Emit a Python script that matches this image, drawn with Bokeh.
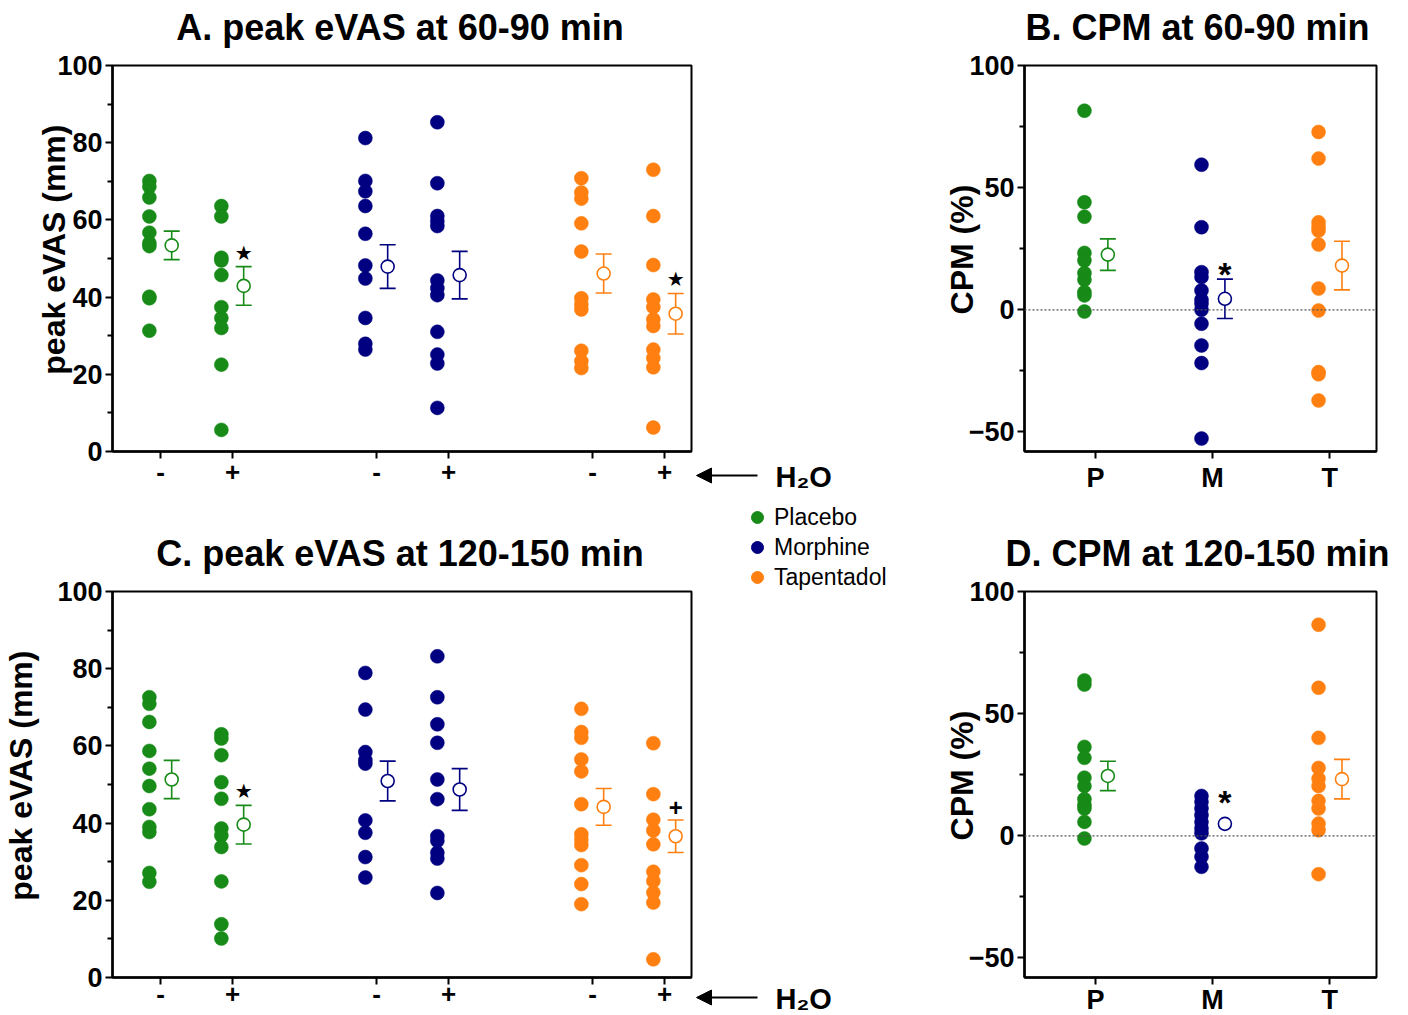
import math
from bokeh.plotting import figure
from bokeh.models import (ColumnDataSource, Whisker, TeeHead, Span, Legend, LegendItem,
                          FixedTicker, Arrow, NormalHead, Label, Range1d)
from bokeh.layouts import column, row
from bokeh.core.properties import value
from bokeh.embed import file_html
from bokeh.resources import INLINE

# ---------------------------------------------------------------- data
panel_titles = ["A. peak eVAS at 60-90 min", "B. CPM at 60-90 min",
                "C. peak eVAS at 120-150 min", "D. CPM at 120-150 min"]
treatments = ["Placebo", "Morphine", "Tapentadol"]
h2o_labels = ["-", "+", "-", "+", "-", "+"]
h2o_treat = ["Placebo", "Placebo", "Morphine", "Morphine", "Tapentadol", "Tapentadol"]
cpm_labels = ["P", "M", "T"]

# A. peak eVAS at 60-90 min (mm)
a_placebo_minus = [70.1, 68.6, 65.8, 60.9, 56.7, 54.0, 53.2, 40.1, 39.7, 31.3]
a_placebo_plus = [63.6, 60.9, 50.2, 49.5, 45.7, 37.4, 34.6, 32.0, 22.5, 5.6]
a_morphine_minus = [81.2, 70.1, 67.4, 63.6, 56.4, 48.2, 44.8, 34.6, 27.9, 26.4]
a_morphine_plus = [85.3, 69.5, 61.0, 59.7, 58.4, 44.3, 42.3, 40.5, 31.0, 25.1, 22.8, 11.3]
a_tapentadol_minus = [70.8, 67.1, 65.5, 59.1, 51.8, 39.7, 38.1, 36.8, 26.1, 23.4, 21.6]
a_tapentadol_plus = [73.0, 61.0, 48.3, 39.4, 37.4, 34.2, 32.5, 26.4, 24.2, 21.8, 6.2]
a_means = [53.4, 42.9, 47.9, 45.7, 46.1, 35.7]
a_sems = [3.7, 5.0, 5.65, 6.15, 5.05, 5.25]
a_marks = ["", "★", "", "", "", "★"]

# B. CPM at 60-90 min (%)
b_placebo = [81.5, 44.0, 38.1, 23.3, 20.2, 15.0, 12.3, 7.2, 5.9, -0.7]
b_morphine = [59.4, 33.8, 15.4, 13.4, 7.9, 4.1, 2.5, 0.0, -5.7, -14.6, -21.8, -52.7]
b_tapentadol = [72.8, 61.9, 35.8, 33.8, 32.4, 26.7, 8.7, -0.3, -25.5, -26.4, -37.1]
b_means = [22.6, 4.5, 18.1]
b_sems = [6.45, 8.05, 9.95]
b_marks = ["", "*", ""]

# C. peak eVAS at 120-150 min (mm)
c_placebo_minus = [72.6, 70.9, 66.2, 58.7, 54.1, 49.6, 43.6, 39.0, 37.7, 27.1, 24.8]
c_placebo_plus = [63.0, 61.9, 57.6, 50.6, 46.3, 38.6, 36.8, 33.8, 24.9, 13.8, 10.1]
c_morphine_minus = [78.9, 69.4, 58.4, 56.3, 55.4, 40.7, 37.5, 31.2, 25.9]
c_morphine_plus = [83.2, 72.6, 65.6, 60.8, 51.3, 46.2, 36.6, 35.4, 32.3, 30.8, 21.9]
c_tapentadol_minus = [69.6, 63.6, 62.1, 56.5, 53.4, 44.9, 37.1, 35.7, 34.3, 29.1, 24.2, 19.0]
c_tapentadol_plus = [60.7, 47.5, 40.9, 38.1, 34.5, 27.4, 25.0, 22.0, 19.4, 4.7]
c_means = [51.3, 39.6, 50.9, 48.7, 44.2, 36.6]
c_sems = [4.95, 5.0, 5.15, 5.4, 4.75, 4.2]
c_marks = ["", "★", "", "", "", "+"]

# D. CPM at 120-150 min (%)
d_placebo = [63.6, 61.9, 36.4, 31.9, 23.8, 20.4, 15.0, 12.5, 11.2, 5.7, -1.1]
d_morphine = [16.3, 13.9, 11.2, 8.4, 5.7, 3.0, 1.0, -5.2, -8.6, -12.7]
d_tapentadol = [86.4, 60.6, 40.1, 27.8, 23.4, 20.4, 14.3, 11.2, 5.0, 2.3, -15.7]
d_means = [24.5, 4.9, 23.2]
d_sems = [6.0, float("nan"), 8.1]   # morphine SEM bar hidden behind the symbol
d_marks = ["", "*", ""]

evas_ticks = [0, 20, 40, 60, 80, 100]
evas_minor = [10, 30, 50, 70, 90]
cpm_ticks = [-50, 0, 50, 100]
cpm_minor = [-25, 25, 75]

# ---------------------------------------------------------------- style / geometry
FONT = "Liberation Sans"
COLORS = {"Placebo": "#178a17", "Morphine": "#000080", "Tapentadol": "#ff8010"}
EVAS_X = [1, 2, 4, 5, 7, 8]
CPM_X = [1, 2, 3]
MARK_STYLE = {  # font, size, weight, y offset (px) above the error bar top
    "★": ("DejaVu Sans", "20px", "normal", -14),
    "*": (FONT, "34px", "bold", -5),
    "+": (FONT, "24px", "bold", -13),
}
NB = "\u00a0\u00a0"   # keeps the rotated axis titles a little above the axis centre

EVAS_XR = (0.333, 8.375)
CPM_XR = (0.393, 3.40)
EVAS_YR = (0, 100)
CPM_YR = (-58, 100)
L_LEFT, FW_L, L_RIGHT = 110, 579, 4
R_LEFT, FW_R, R_RIGHT = 81, 352, 30
GAP_W = 245
FH = 386
PANEL_TOP, BOT1, BOT2 = 16, 50, 38
STRIP1_H, STRIP2_H = 49, 74
LEFT_W = L_LEFT + FW_L + L_RIGHT
RIGHT_W = R_LEFT + FW_R + R_RIGHT
ROW1_H = PANEL_TOP + FH + BOT1
ROW2_H = PANEL_TOP + FH + BOT2
PAGE_H = STRIP1_H + ROW1_H + STRIP2_H + ROW2_H
TITLE_GAP = 38        # from the middle of a title down to the top of its panel


def make_panel(groups, treat, means, sems, marks, xpos, xlabels, xr, yr,
               yticks, yminor, ylabel, fw, bl, br, bb, lab_standoff,
               xlab_standoff, dot_dx, mean_dx, zero_line, xlab_size):
    p = figure(frame_width=fw, frame_height=FH, x_range=Range1d(*xr), y_range=Range1d(*yr),
               output_backend="svg", toolbar_location=None, title=None,
               min_border_left=bl, min_border_right=br, min_border_top=PANEL_TOP,
               min_border_bottom=bb, background_fill_color="white", border_fill_color="white")
    p.grid.visible = False
    p.outline_line_color = "black"
    p.outline_line_width = 2
    p.outline_line_alpha = 1

    for ax in (p.xaxis[0], p.yaxis[0]):
        ax.axis_line_width = 2.5
        ax.axis_line_color = "black"
        ax.major_tick_line_width = 2
        ax.minor_tick_line_width = 2
        ax.major_tick_line_color = "black"
        ax.minor_tick_line_color = "black"
        ax.major_tick_in = 0
        ax.minor_tick_in = 0
        ax.major_tick_out = 7
        ax.minor_tick_out = 5
        ax.major_label_text_font = FONT
        ax.major_label_text_font_style = "bold"
        ax.major_label_text_color = "black"

    xa = p.xaxis[0]
    xa.ticker = FixedTicker(ticks=xpos, minor_ticks=[])
    xa.major_label_overrides = {x: lab for x, lab in zip(xpos, xlabels)}
    xa.major_label_text_font_size = xlab_size
    xa.major_label_standoff = xlab_standoff

    ya = p.yaxis[0]
    ya.ticker = FixedTicker(ticks=yticks, minor_ticks=yminor)
    ya.major_label_text_font_size = "27px"
    ya.major_label_standoff = 3
    ya.axis_label = NB + ylabel
    ya.axis_label_text_font = FONT
    ya.axis_label_text_font_size = "32px"
    ya.axis_label_text_font_style = "bold"
    ya.axis_label_text_color = "black"
    ya.axis_label_standoff = lab_standoff

    if zero_line:
        p.add_layout(Span(location=0, dimension="width", line_color="#555555",
                          line_dash="2 2", line_width=1.2))

    for i, vals in enumerate(groups):
        c = COLORS[treat[i]]
        src = ColumnDataSource(dict(x=[xpos[i] + dot_dx] * len(vals), y=vals))
        p.scatter("x", "y", source=src, size=14, fill_color=c, line_color=c, line_width=0.5)

    for i in range(len(groups)):
        c = COLORS[treat[i]]
        mx = xpos[i] + mean_dx
        has_bar = not math.isnan(sems[i])
        if has_bar:
            wsrc = ColumnDataSource(dict(base=[mx], upper=[means[i] + sems[i]],
                                         lower=[means[i] - sems[i]]))
            p.add_layout(Whisker(source=wsrc, base="base", upper="upper", lower="lower",
                                 dimension="height", line_color=c, line_width=1.6,
                                 upper_head=TeeHead(size=16, line_color=c, line_width=1.6),
                                 lower_head=TeeHead(size=16, line_color=c, line_width=1.6)))
        p.scatter(x=[mx], y=[means[i]], size=13, fill_color="white", line_color=c,
                  line_width=1.6)
        if marks[i]:
            font, size, style, off = MARK_STYLE[marks[i]]
            ybase = means[i] + sems[i] if has_bar else means[i]
            if not has_bar:
                off -= 17
            p.text(x=[mx], y=[ybase], text=[marks[i]], y_offset=off, text_align="center",
                   text_baseline="middle", text_font=value(font), text_font_size=size,
                   text_font_style=style, text_color="black")
    return p


def make_blank(width, height):
    # plain drawing area measured in pixels from its top-left corner
    p = figure(frame_width=width, frame_height=height, x_range=Range1d(0, width),
               y_range=Range1d(height, 0), x_axis_type=None, y_axis_type=None,
               output_backend="svg", toolbar_location=None, title=None,
               min_border_left=0, min_border_right=0, min_border_top=0, min_border_bottom=0,
               background_fill_color="white", border_fill_color="white")
    p.outline_line_color = None
    if "frame_align" in p.properties():
        p.frame_align = False
    return p


def add_title(strip, text, cx, cy):
    strip.text(x=[cx], y=[cy], text=[text], text_align="center",
               text_baseline="middle", text_font=value(FONT), text_font_size="36px",
               text_font_style="bold", text_color="black")


def add_h2o(p, y):
    p.add_layout(Arrow(end=NormalHead(size=15, fill_color="black", line_color="black"),
                       x_start=62, y_start=y, x_end=1, y_end=y,
                       line_width=2, line_color="black"))
    p.add_layout(Label(x=80, y=y + 1, text="H₂O", text_baseline="middle",
                       text_align="left", text_font=FONT, text_font_size="29px",
                       text_font_style="bold", text_color="black"))


# ---------------------------------------------------------------- panels
pA = make_panel([a_placebo_minus, a_placebo_plus, a_morphine_minus, a_morphine_plus,
                 a_tapentadol_minus, a_tapentadol_plus],
                h2o_treat, a_means, a_sems, a_marks, EVAS_X, h2o_labels, EVAS_XR, EVAS_YR,
                evas_ticks, evas_minor, "peak eVAS (mm)", FW_L, L_LEFT, L_RIGHT, BOT1, -18, 4,
                -0.155, 0.155, False, "26px")
pB = make_panel([b_placebo, b_morphine, b_tapentadol],
                treatments, b_means, b_sems, b_marks, CPM_X, cpm_labels, CPM_XR, CPM_YR,
                cpm_ticks, cpm_minor, "CPM (%)", FW_R, R_LEFT, R_RIGHT, BOT1, -14, 4,
                -0.095, 0.105, True, "27px")
pC = make_panel([c_placebo_minus, c_placebo_plus, c_morphine_minus, c_morphine_plus,
                 c_tapentadol_minus, c_tapentadol_plus],
                h2o_treat, c_means, c_sems, c_marks, EVAS_X, h2o_labels, EVAS_XR, EVAS_YR,
                evas_ticks, evas_minor, "peak eVAS (mm)", FW_L, L_LEFT, L_RIGHT, BOT2, 15, 0,
                -0.155, 0.155, False, "26px")
pD = make_panel([d_placebo, d_morphine, d_tapentadol],
                treatments, d_means, d_sems, d_marks, CPM_X, cpm_labels, CPM_XR, CPM_YR,
                cpm_ticks, cpm_minor, "CPM (%)", FW_R, R_LEFT, R_RIGHT, BOT2, -14, 0,
                -0.095, 0.105, True, "27px")

# ---------------------------------------------------------------- titles
cy1 = STRIP1_H + PANEL_TOP - TITLE_GAP
cy2 = STRIP2_H + PANEL_TOP - TITLE_GAP
stripA = make_blank(LEFT_W, STRIP1_H)
add_title(stripA, panel_titles[0], L_LEFT + FW_L / 2, cy1)
stripB = make_blank(RIGHT_W, STRIP1_H)
add_title(stripB, panel_titles[1], R_LEFT + FW_R / 2, cy1)
stripC = make_blank(LEFT_W, STRIP2_H)
add_title(stripC, panel_titles[2], L_LEFT + FW_L / 2, cy2)
stripD = make_blank(RIGHT_W, STRIP2_H)
add_title(stripD, panel_titles[3], R_LEFT + FW_R / 2, cy2)

# ---------------------------------------------------------------- middle: H2O arrows and legend
mid = make_blank(GAP_W, PAGE_H)
x_axis_1 = STRIP1_H + PANEL_TOP + FH          # bottom of the upper panels
x_axis_2 = PAGE_H - BOT2                      # bottom of the lower panels
add_h2o(mid, x_axis_1 + 24)
add_h2o(mid, x_axis_2 + 20)
nan = float("nan")
legend_rends = [mid.scatter(x=[nan], y=[nan], size=14, fill_color=COLORS[t], line_color=COLORS[t])
                for t in treatments]
legend_top = STRIP1_H + ROW1_H + 1
legend = Legend(items=[LegendItem(label=t, renderers=[r]) for t, r in zip(treatments, legend_rends)],
                location=(47, PAGE_H - legend_top - 90), border_line_color=None,
                background_fill_alpha=0, label_text_font=FONT, label_text_font_size="23px",
                label_text_color="black", glyph_width=30, glyph_height=30, label_height=30,
                label_standoff=2, spacing=0, padding=0, margin=0)
mid.add_layout(legend)

layout = row(column(stripA, pA, stripC, pC), mid, column(stripB, pB, stripD, pD))
open("out.html", "w").write(file_html(layout, INLINE))
